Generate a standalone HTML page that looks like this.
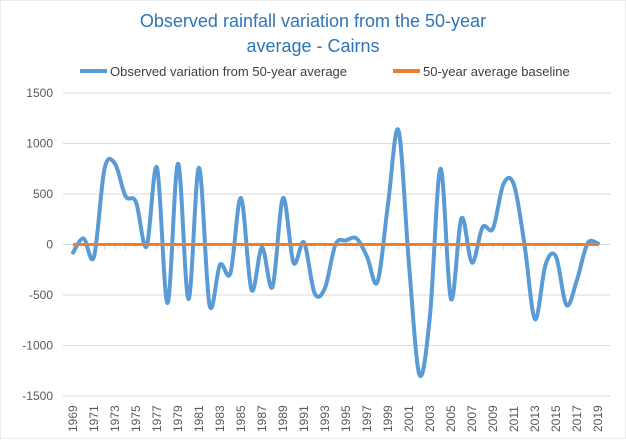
<!DOCTYPE html>
<html><head><meta charset="utf-8"><style>
body{margin:0;background:#fff;font-family:"Liberation Sans",sans-serif}
svg text{font-family:"Liberation Sans",sans-serif}
</style></head><body>
<svg id="chart" width="626" height="439" viewBox="0 0 626 439" xmlns="http://www.w3.org/2000/svg">
<rect width="626" height="439" fill="#fff" stroke="#d9d9d9"/>
<text x="313" y="27" text-anchor="middle" font-size="18" fill="#2e75b6">Observed  rainfall variation from the 50-year</text>
<text x="313" y="52" text-anchor="middle" font-size="18" fill="#2e75b6">average - Cairns</text>
<g>
<line x1="80" y1="71" x2="107" y2="71" stroke="#5b9bd5" stroke-width="4"/>
<text x="110" y="76" font-size="13" fill="#404040">Observed variation from 50-year average</text>
<line x1="393" y1="71" x2="420" y2="71" stroke="#ed7d31" stroke-width="4"/>
<text x="423" y="76" font-size="13" fill="#404040">50-year average baseline</text>
</g>
<g id="grid"></g><g id="axes"></g><g id="series"></g>
</svg>
<script>
const years=[1969,1970,1971,1972,1973,1974,1975,1976,1977,1978,1979,1980,1981,1982,1983,1984,1985,1986,1987,1988,1989,1990,1991,1992,1993,1994,1995,1996,1997,1998,1999,2000,2001,2002,2003,2004,2005,2006,2007,2008,2009,2010,2011,2012,2013,2014,2015,2016,2017,2018,2019];
const observed=[-80,60,-120,750,800,480,420,-20,760,-580,800,-540,760,-600,-200,-280,460,-450,-30,-420,460,-180,20,-480,-430,0,40,60,-120,-370,400,1130,-200,-1290,-700,750,-540,260,-180,170,160,600,590,0,-740,-200,-120,-600,-350,10,10];
const baseline=years.map(()=>0);
const yTicks=[1500,1000,500,0,-500,-1000,-1500];
const NS="http://www.w3.org/2000/svg";
const X0=73,X1=598,Y0=93,Y1=396;
const xs=y=>X0+(y-1969)*(X1-X0)/50;
const ys=v=>Y0+(1500-v)*(Y1-Y0)/3000;
function mk(tag,attrs,parent){const e=document.createElementNS(NS,tag);for(const k in attrs)e.setAttribute(k,attrs[k]);parent.appendChild(e);return e;}
const grid=document.getElementById('grid'),axes=document.getElementById('axes'),series=document.getElementById('series');
yTicks.forEach(t=>{
 const l=mk('line',{x1:X0-10,x2:X1+12,y1:ys(t),y2:ys(t),stroke:'#d9d9d9','stroke-width':1},grid);
 
 
 const tx=mk('text',{x:53,y:ys(t)+4,'text-anchor':'end','font-size':12,fill:'#595959'},axes);
 tx.textContent=t;
 
 
});
years.forEach((yr,i)=>{
 const x=xs(yr);
 const tk=mk('line',{x1:x,x2:x,y1:ys(0),y2:ys(0)+5,stroke:'#d9d9d9'},axes);
 
 
 if(i%2===0){
  const tx=mk('text',{x:x+4,y:432,'font-size':12,fill:'#595959',transform:`rotate(-90 ${x+4} 432)`},axes);
  tx.textContent=yr;
  
  
 }
});
const pts=years.map((y,i)=>[xs(y),ys(observed[i])]);
let d=`M${pts[0][0]},${pts[0][1]}`;
for(let i=0;i<pts.length-1;i++){
 const p0=pts[Math.max(0,i-1)],p1=pts[i],p2=pts[i+1],p3=pts[Math.min(pts.length-1,i+2)];
 const t=1/6;
 d+=` C${p1[0]+(p2[0]-p0[0])*t},${p1[1]+(p2[1]-p0[1])*t} ${p2[0]-(p3[0]-p1[0])*t},${p2[1]-(p3[1]-p1[1])*t} ${p2[0]},${p2[1]}`;
}
const obs=mk('path',{d:d,fill:'none',stroke:'#5b9bd5','stroke-width':4,'stroke-linejoin':'round','stroke-linecap':'round'},series);


const bl=mk('polyline',{points:years.map((y,i)=>xs(y)+','+ys(baseline[i])).join(' '),fill:'none',stroke:'#ed7d31','stroke-width':3},series);


</script>
</body></html>
